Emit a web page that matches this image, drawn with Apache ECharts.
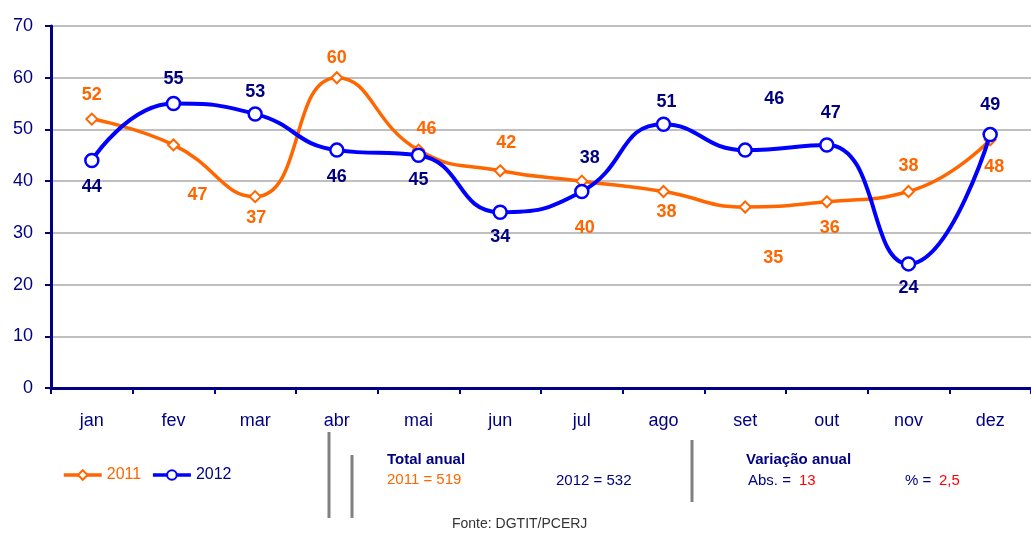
<!DOCTYPE html>
<html><head><meta charset="utf-8">
<script src="https://cdn.jsdelivr.net/npm/echarts@6/dist/echarts.min.js"></script>
<style>html,body{margin:0;padding:0;background:#fff}#c{width:1031px;height:534px}</style>
</head><body><div id="c"></div>
<script>
var categories = ['jan','fev','mar','abr','mai','jun','jul','ago','set','out','nov','dez'];
var values2011 = [52,47,37,60,46,42,40,38,35,36,38,48];
var values2012 = [44,55,53,46,45,34,38,51,46,47,24,49];
var yTicks = {min:0, max:70, interval:10};
// label offsets (style only) relative to each point
var off2011 = [[0,-24],[24,50],[1,21],[0,-20],[8,-21],[6,-28],[3,47],[3,21],[28,51],[3,26],[0,-25],[4,27]];
var off2012 = [[0,27],[0,-25],[0,-22],[0,27],[0,25],[0,25],[8,-33],[3,-22],[29,-51],[4,-32],[0,24],[0,-30]];

var FONT = "'Liberation Sans Narrow', 'Arial Narrow', 'Liberation Sans', Arial, sans-serif";
var NAVY = '#000080', ORANGE = '#FF6600', BLUE = '#0000FF', RED = '#FF0000';

function sum(a){return a.reduce(function(s,v){return s+v;},0);}
var tot2011 = sum(values2011), tot2012 = sum(values2012);
var abs = tot2012 - tot2011;
var pct = (abs / tot2011 * 100).toFixed(1).replace('.', ',');

function items(vals, offs, color){
  return vals.map(function(v,i){
    return {value:v, label:{show:true, position:'inside', offset:offs[i], color:color,
      fontFamily:FONT, fontWeight:'bold', fontSize:18}};
  });
}

var chart = echarts.init(document.getElementById('c'), null, {renderer:'canvas'});
var option = {
  backgroundColor:'#fff',
  animation:false,
  grid:{left:51, top:26, width:990, bottom:146, containLabel:false},
  legend:{
    left:57, top:462, itemWidth:38, itemHeight:12, itemGap:10,
    textStyle:{fontFamily:FONT, fontSize:16},
    lineStyle:{width:3.5},
    data:[{name:'2011', textStyle:{color:ORANGE}},{name:'2012', textStyle:{color:NAVY}}]
  },
  xAxis:{
    type:'category', data:categories, boundaryGap:true,
    axisLine:{lineStyle:{color:NAVY, width:3}},
    axisTick:{show:true, length:6, lineStyle:{color:NAVY, width:2}},
    axisLabel:{color:NAVY, fontFamily:FONT, fontSize:18, margin:24},
    splitLine:{show:false}
  },
  yAxis:{
    type:'value', min:yTicks.min, max:yTicks.max, interval:yTicks.interval,
    axisLine:{show:true, lineStyle:{color:NAVY, width:3}},
    axisTick:{show:true, length:6, lineStyle:{color:NAVY, width:2}},
    axisLabel:{color:NAVY, fontFamily:FONT, fontSize:18, margin:18},
    splitLine:{show:true, lineStyle:{color:'#BFBFBF', width:2}}
  },
  series:[
    {name:'2011', type:'line', smooth:0.5, data:items(values2011, off2011, ORANGE),
     symbol:'diamond', symbolSize:11, showAllSymbol:true,
     lineStyle:{color:ORANGE, width:3.5}, itemStyle:{color:'#fff', borderColor:ORANGE, borderWidth:2}, z:2},
    {name:'2012', type:'line', smooth:0.5, data:items(values2012, off2012, NAVY),
     symbol:'circle', symbolSize:13, showAllSymbol:true,
     lineStyle:{color:BLUE, width:4}, itemStyle:{color:'#fff', borderColor:BLUE, borderWidth:2.5}, z:3}
  ],
  graphic:[
    {type:'line', shape:{x1:329,y1:432,x2:329,y2:518}, style:{stroke:'#808080', lineWidth:3}},
    {type:'line', shape:{x1:352,y1:455,x2:352,y2:518}, style:{stroke:'#808080', lineWidth:3}},
    {type:'line', shape:{x1:692,y1:440,x2:692,y2:502}, style:{stroke:'#808080', lineWidth:3}},
    {type:'text', left:387, top:452, style:{text:'Total anual', fill:NAVY, font:"bold 15px "+FONT}},
    {type:'text', left:387, top:472, style:{text:'2011 = '+tot2011, fill:ORANGE, font:"15px "+FONT}},
    {type:'text', left:556, top:473, style:{text:'2012 = '+tot2012, fill:NAVY, font:"15px "+FONT}},
    {type:'text', left:746, top:452, style:{text:'Variação anual', fill:NAVY, font:"bold 15px "+FONT}},
    {type:'text', left:748, top:473, style:{text:'Abs. = ', fill:NAVY, font:"15px "+FONT}},
    {type:'text', left:799, top:473, style:{text:String(abs), fill:RED, font:"15px "+FONT}},
    {type:'text', left:905, top:473, style:{text:'% = ', fill:NAVY, font:"15px "+FONT}},
    {type:'text', left:939, top:473, style:{text:pct, fill:RED, font:"15px "+FONT}},
    {type:'text', left:452, top:517, style:{text:'Fonte: DGTIT/PCERJ', fill:'#333333', font:"14px "+FONT}}
  ]
};
chart.setOption(option);
</script></body></html>
